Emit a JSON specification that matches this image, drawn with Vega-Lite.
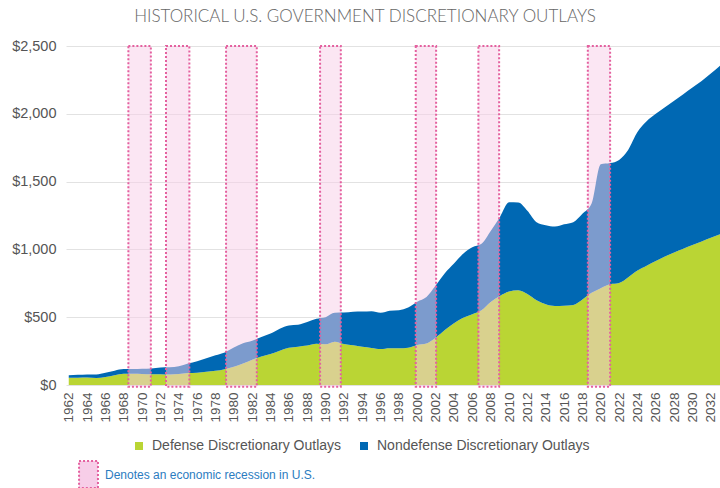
{
  "$schema": "https://vega.github.io/schema/vega-lite/v6.json",
  "width": 654,
  "height": 339,
  "autosize": {"type": "none"},
  "padding": {"left": 66, "top": 46, "right": 0, "bottom": 103},
  "background": "white",
  "title": {
    "text": "HISTORICAL U.S. GOVERNMENT DISCRETIONARY OUTLAYS",
    "anchor": "middle",
    "dx": -28,
    "offset": 12,
    "fontSize": 17,
    "font": "Lato",
    "fontWeight": 300,
    "color": "#666666"
  },
  "config": {
    "view": {"stroke": null},
    "font": "Liberation Sans"
  },
  "datasets": {
    "outlays": [
      {"year": 1962, "series": "Defense Discretionary Outlays", "value": 52.6}, {"year": 1962, "series": "Nondefense Discretionary Outlays", "value": 19.5},
      {"year": 1963, "series": "Defense Discretionary Outlays", "value": 53.7}, {"year": 1963, "series": "Nondefense Discretionary Outlays", "value": 21.3},
      {"year": 1964, "series": "Defense Discretionary Outlays", "value": 55.0}, {"year": 1964, "series": "Nondefense Discretionary Outlays", "value": 23.3},
      {"year": 1965, "series": "Defense Discretionary Outlays", "value": 51.0}, {"year": 1965, "series": "Nondefense Discretionary Outlays", "value": 26.4},
      {"year": 1966, "series": "Defense Discretionary Outlays", "value": 59.0}, {"year": 1966, "series": "Nondefense Discretionary Outlays", "value": 30.6},
      {"year": 1967, "series": "Defense Discretionary Outlays", "value": 72.0}, {"year": 1967, "series": "Nondefense Discretionary Outlays", "value": 33.9},
      {"year": 1968, "series": "Defense Discretionary Outlays", "value": 82.2}, {"year": 1968, "series": "Nondefense Discretionary Outlays", "value": 35.8},
      {"year": 1969, "series": "Defense Discretionary Outlays", "value": 82.7}, {"year": 1969, "series": "Nondefense Discretionary Outlays", "value": 35.6},
      {"year": 1970, "series": "Defense Discretionary Outlays", "value": 81.9}, {"year": 1970, "series": "Nondefense Discretionary Outlays", "value": 38.4},
      {"year": 1971, "series": "Defense Discretionary Outlays", "value": 79.0}, {"year": 1971, "series": "Nondefense Discretionary Outlays", "value": 43.5},
      {"year": 1972, "series": "Defense Discretionary Outlays", "value": 79.3}, {"year": 1972, "series": "Nondefense Discretionary Outlays", "value": 49.4},
      {"year": 1973, "series": "Defense Discretionary Outlays", "value": 77.1}, {"year": 1973, "series": "Nondefense Discretionary Outlays", "value": 53.3},
      {"year": 1974, "series": "Defense Discretionary Outlays", "value": 80.7}, {"year": 1974, "series": "Nondefense Discretionary Outlays", "value": 57.4},
      {"year": 1975, "series": "Defense Discretionary Outlays", "value": 87.6}, {"year": 1975, "series": "Nondefense Discretionary Outlays", "value": 70.5},
      {"year": 1976, "series": "Defense Discretionary Outlays", "value": 89.9}, {"year": 1976, "series": "Nondefense Discretionary Outlays", "value": 85.5},
      {"year": 1977, "series": "Defense Discretionary Outlays", "value": 97.5}, {"year": 1977, "series": "Nondefense Discretionary Outlays", "value": 99.6},
      {"year": 1978, "series": "Defense Discretionary Outlays", "value": 104.6}, {"year": 1978, "series": "Nondefense Discretionary Outlays", "value": 114.0},
      {"year": 1979, "series": "Defense Discretionary Outlays", "value": 116.8}, {"year": 1979, "series": "Nondefense Discretionary Outlays", "value": 123.2},
      {"year": 1980, "series": "Defense Discretionary Outlays", "value": 134.6}, {"year": 1980, "series": "Nondefense Discretionary Outlays", "value": 141.7},
      {"year": 1981, "series": "Defense Discretionary Outlays", "value": 158.0}, {"year": 1981, "series": "Nondefense Discretionary Outlays", "value": 149.9},
      {"year": 1982, "series": "Defense Discretionary Outlays", "value": 185.9}, {"year": 1982, "series": "Nondefense Discretionary Outlays", "value": 140.0},
      {"year": 1983, "series": "Defense Discretionary Outlays", "value": 209.9}, {"year": 1983, "series": "Nondefense Discretionary Outlays", "value": 143.4},
      {"year": 1984, "series": "Defense Discretionary Outlays", "value": 228.0}, {"year": 1984, "series": "Nondefense Discretionary Outlays", "value": 151.4},
      {"year": 1985, "series": "Defense Discretionary Outlays", "value": 253.1}, {"year": 1985, "series": "Nondefense Discretionary Outlays", "value": 162.1},
      {"year": 1986, "series": "Defense Discretionary Outlays", "value": 273.8}, {"year": 1986, "series": "Nondefense Discretionary Outlays", "value": 164.7},
      {"year": 1987, "series": "Defense Discretionary Outlays", "value": 282.5}, {"year": 1987, "series": "Nondefense Discretionary Outlays", "value": 161.1},
      {"year": 1988, "series": "Defense Discretionary Outlays", "value": 290.9}, {"year": 1988, "series": "Nondefense Discretionary Outlays", "value": 173.5},
      {"year": 1989, "series": "Defense Discretionary Outlays", "value": 304.0}, {"year": 1989, "series": "Nondefense Discretionary Outlays", "value": 184.8},
      {"year": 1990, "series": "Defense Discretionary Outlays", "value": 300.1}, {"year": 1990, "series": "Nondefense Discretionary Outlays", "value": 200.4},
      {"year": 1991, "series": "Defense Discretionary Outlays", "value": 319.7}, {"year": 1991, "series": "Nondefense Discretionary Outlays", "value": 213.6},
      {"year": 1992, "series": "Defense Discretionary Outlays", "value": 302.6}, {"year": 1992, "series": "Nondefense Discretionary Outlays", "value": 231.2},
      {"year": 1993, "series": "Defense Discretionary Outlays", "value": 292.4}, {"year": 1993, "series": "Nondefense Discretionary Outlays", "value": 247.3},
      {"year": 1994, "series": "Defense Discretionary Outlays", "value": 282.3}, {"year": 1994, "series": "Nondefense Discretionary Outlays", "value": 259.1},
      {"year": 1995, "series": "Defense Discretionary Outlays", "value": 273.6}, {"year": 1995, "series": "Nondefense Discretionary Outlays", "value": 271.1},
      {"year": 1996, "series": "Defense Discretionary Outlays", "value": 266.0}, {"year": 1996, "series": "Nondefense Discretionary Outlays", "value": 266.7},
      {"year": 1997, "series": "Defense Discretionary Outlays", "value": 271.7}, {"year": 1997, "series": "Nondefense Discretionary Outlays", "value": 275.6},
      {"year": 1998, "series": "Defense Discretionary Outlays", "value": 270.2}, {"year": 1998, "series": "Nondefense Discretionary Outlays", "value": 281.8},
      {"year": 1999, "series": "Defense Discretionary Outlays", "value": 275.5}, {"year": 1999, "series": "Nondefense Discretionary Outlays", "value": 296.7},
      {"year": 2000, "series": "Defense Discretionary Outlays", "value": 295.0}, {"year": 2000, "series": "Nondefense Discretionary Outlays", "value": 319.8},
      {"year": 2001, "series": "Defense Discretionary Outlays", "value": 306.1}, {"year": 2001, "series": "Nondefense Discretionary Outlays", "value": 343.2},
      {"year": 2002, "series": "Defense Discretionary Outlays", "value": 348.5}, {"year": 2002, "series": "Nondefense Discretionary Outlays", "value": 385.5},
      {"year": 2003, "series": "Defense Discretionary Outlays", "value": 404.8}, {"year": 2003, "series": "Nondefense Discretionary Outlays", "value": 420.2},
      {"year": 2004, "series": "Defense Discretionary Outlays", "value": 455.8}, {"year": 2004, "series": "Nondefense Discretionary Outlays", "value": 439.9},
      {"year": 2005, "series": "Defense Discretionary Outlays", "value": 495.3}, {"year": 2005, "series": "Nondefense Discretionary Outlays", "value": 472.9},
      {"year": 2006, "series": "Defense Discretionary Outlays", "value": 521.8}, {"year": 2006, "series": "Nondefense Discretionary Outlays", "value": 494.6},
      {"year": 2007, "series": "Defense Discretionary Outlays", "value": 551.2}, {"year": 2007, "series": "Nondefense Discretionary Outlays", "value": 490.0},
      {"year": 2008, "series": "Defense Discretionary Outlays", "value": 612.4}, {"year": 2008, "series": "Nondefense Discretionary Outlays", "value": 522.8},
      {"year": 2009, "series": "Defense Discretionary Outlays", "value": 656.7}, {"year": 2009, "series": "Nondefense Discretionary Outlays", "value": 581.0},
      {"year": 2010, "series": "Defense Discretionary Outlays", "value": 688.9}, {"year": 2010, "series": "Nondefense Discretionary Outlays", "value": 658.4},
      {"year": 2011, "series": "Defense Discretionary Outlays", "value": 699.4}, {"year": 2011, "series": "Nondefense Discretionary Outlays", "value": 646.7},
      {"year": 2012, "series": "Defense Discretionary Outlays", "value": 670.5}, {"year": 2012, "series": "Nondefense Discretionary Outlays", "value": 615.3},
      {"year": 2013, "series": "Defense Discretionary Outlays", "value": 625.8}, {"year": 2013, "series": "Nondefense Discretionary Outlays", "value": 575.3},
      {"year": 2014, "series": "Defense Discretionary Outlays", "value": 596.4}, {"year": 2014, "series": "Nondefense Discretionary Outlays", "value": 582.5},
      {"year": 2015, "series": "Defense Discretionary Outlays", "value": 583.4}, {"year": 2015, "series": "Nondefense Discretionary Outlays", "value": 585.4},
      {"year": 2016, "series": "Defense Discretionary Outlays", "value": 584.8}, {"year": 2016, "series": "Nondefense Discretionary Outlays", "value": 600.5},
      {"year": 2017, "series": "Defense Discretionary Outlays", "value": 590.1}, {"year": 2017, "series": "Nondefense Discretionary Outlays", "value": 610.8},
      {"year": 2018, "series": "Defense Discretionary Outlays", "value": 630.7}, {"year": 2018, "series": "Nondefense Discretionary Outlays", "value": 631.7},
      {"year": 2019, "series": "Defense Discretionary Outlays", "value": 679.5}, {"year": 2019, "series": "Nondefense Discretionary Outlays", "value": 658.6},
      {"year": 2020, "series": "Defense Discretionary Outlays", "value": 713.4}, {"year": 2020, "series": "Nondefense Discretionary Outlays", "value": 914.3},
      {"year": 2021, "series": "Defense Discretionary Outlays", "value": 742.6}, {"year": 2021, "series": "Nondefense Discretionary Outlays", "value": 893.7},
      {"year": 2022, "series": "Defense Discretionary Outlays", "value": 752}, {"year": 2022, "series": "Nondefense Discretionary Outlays", "value": 908},
      {"year": 2023, "series": "Defense Discretionary Outlays", "value": 795}, {"year": 2023, "series": "Nondefense Discretionary Outlays", "value": 940},
      {"year": 2024, "series": "Defense Discretionary Outlays", "value": 845}, {"year": 2024, "series": "Nondefense Discretionary Outlays", "value": 1020},
      {"year": 2025, "series": "Defense Discretionary Outlays", "value": 880}, {"year": 2025, "series": "Nondefense Discretionary Outlays", "value": 1065},
      {"year": 2026, "series": "Defense Discretionary Outlays", "value": 915}, {"year": 2026, "series": "Nondefense Discretionary Outlays", "value": 1085},
      {"year": 2027, "series": "Defense Discretionary Outlays", "value": 948}, {"year": 2027, "series": "Nondefense Discretionary Outlays", "value": 1100},
      {"year": 2028, "series": "Defense Discretionary Outlays", "value": 978}, {"year": 2028, "series": "Nondefense Discretionary Outlays", "value": 1118},
      {"year": 2029, "series": "Defense Discretionary Outlays", "value": 1005}, {"year": 2029, "series": "Nondefense Discretionary Outlays", "value": 1140},
      {"year": 2030, "series": "Defense Discretionary Outlays", "value": 1032}, {"year": 2030, "series": "Nondefense Discretionary Outlays", "value": 1162},
      {"year": 2031, "series": "Defense Discretionary Outlays", "value": 1058}, {"year": 2031, "series": "Nondefense Discretionary Outlays", "value": 1184},
      {"year": 2032, "series": "Defense Discretionary Outlays", "value": 1085}, {"year": 2032, "series": "Nondefense Discretionary Outlays", "value": 1213},
      {"year": 2033, "series": "Defense Discretionary Outlays", "value": 1112}, {"year": 2033, "series": "Nondefense Discretionary Outlays", "value": 1243}
    ],
    "recessions": [
      {"start": 1968.5, "end": 1970.95, "label": "Denotes an economic recession in U.S."},
      {"start": 1972.6, "end": 1975.15, "label": "Denotes an economic recession in U.S."},
      {"start": 1979.15, "end": 1982.5, "label": "Denotes an economic recession in U.S."},
      {"start": 1989.4, "end": 1991.66, "label": "Denotes an economic recession in U.S."},
      {"start": 1999.83, "end": 2002.05, "label": "Denotes an economic recession in U.S."},
      {"start": 2006.66, "end": 2008.92, "label": "Denotes an economic recession in U.S."},
      {"start": 2018.59, "end": 2021.02, "label": "Denotes an economic recession in U.S."}
    ]
  },
  "layer": [
    {
      "data": {"name": "outlays"},
      "mark": {"type": "area", "interpolate": "monotone"},
      "encoding": {
        "x": {
          "field": "year",
          "type": "quantitative",
          "scale": {"domain": [1961.7, 2033], "nice": false, "zero": false},
          "axis": {
            "title": null,
            "values": [1962,1964,1966,1968,1970,1972,1974,1976,1978,1980,1982,1984,1986,1988,1990,1992,1994,1996,1998,2000,2002,2004,2006,2008,2010,2012,2014,2016,2018,2020,2022,2024,2026,2028,2030,2032],
            "tickCount": 200,
            "format": "d",
            "labelAngle": -90,
            "labelFontSize": 13.5,
            "labelColor": "#555555",
            "labelPadding": 7,
            "grid": false,
            "domain": false,
            "ticks": false,
            "labelOverlap": false,
            "labelSeparation": 0
          }
        },
        "y": {
          "field": "value",
          "type": "quantitative",
          "stack": "zero",
          "scale": {"domain": [0, 2500], "nice": false},
          "axis": {
            "title": null,
            "values": [0, 500, 1000, 1500, 2000, 2500],
            "format": "$,.0f",
            "labelFontSize": 14.5,
            "labelColor": "#555555",
            "labelPadding": 10,
            "domain": false,
            "ticks": false,
            "gridColor": "#e2e2e2",
            "gridWidth": 1
          }
        },
        "color": {
          "field": "series",
          "type": "nominal",
          "scale": {
            "domain": ["Defense Discretionary Outlays", "Nondefense Discretionary Outlays"],
            "range": ["#bad534", "#0068b3"]
          },
          "legend": {
            "title": null,
            "orient": "none",
            "direction": "horizontal",
            "legendX": 66,
            "legendY": 393,
            "padding": 0,
            "symbolType": "square",
            "symbolSize": 64,
            "symbolStrokeWidth": 0,
            "labelFontSize": 14,
            "labelColor": "#555555",
            "labelOffset": 6,
            "labelLimit": 400,
            "columnPadding": 15
          }
        },
        "order": {"field": "series", "sort": "ascending"}
      }
    },
    {
      "data": {"name": "recessions"},
      "mark": {"type": "rect", "fillOpacity": 0.5, "stroke": "#e4609f", "strokeWidth": 2, "strokeDash": [2, 2]},
      "encoding": {
        "x": {"field": "start", "type": "quantitative"},
        "x2": {"field": "end"},
        "y": {"datum": 2500},
        "y2": {"datum": -12},
        "fill": {
          "field": "label",
          "type": "nominal",
          "scale": {"range": ["#f7cee8"]},
          "legend": {
            "title": null,
            "orient": "none",
            "legendX": 8,
            "legendY": 414,
            "padding": 0,
            "symbolType": "M-0.7,-1H0.7V1H-0.7Z",
            "symbolSize": 729,
            "symbolStrokeColor": "#e4609f",
            "symbolStrokeWidth": 2,
            "symbolDash": [2, 2],
            "symbolOpacity": 1,
            "labelFontSize": 12,
            "labelLimit": 400,
            "labelColor": "#2b7cbf",
            "labelOffset": 2
          }
        }
      }
    }
  ],
  "resolve": {"legend": {"color": "independent", "fill": "independent"}}
}
